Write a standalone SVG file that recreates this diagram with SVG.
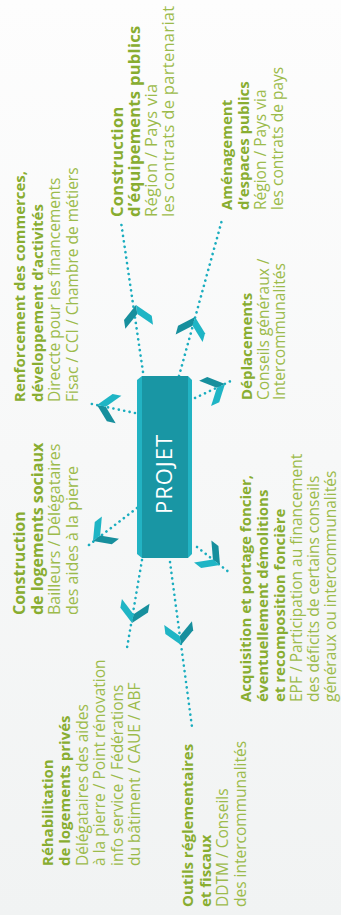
<svg xmlns="http://www.w3.org/2000/svg" width="341" height="915" viewBox="0 0 341 915">
<defs>
<linearGradient id="bg" x1="0" y1="0" x2="0" y2="1">
<stop offset="0" stop-color="#fdfdfd"/>
<stop offset="1" stop-color="#f1f3f3"/>
</linearGradient>
<g id="chev">
<polygon points="0,0 -13,-14 -22,-14 -9,0" fill="#178f9d"/>
<polygon points="0,0 -9,0 -22,14 -13,14" fill="#1fb5c5"/>
</g>
<style>
.t{font-family:"Open Sans","Liberation Sans",sans-serif;font-size:15.5px;fill:#9cbb4b}
.b{font-weight:bold;font-size:15px;fill:#88ad30}
.big .t{font-size:16px}
.bigger .t{font-size:16.5px;letter-spacing:0.3px}
.c{fill:none;stroke:#1aadbf;stroke-width:2.6;stroke-linecap:round;stroke-dasharray:0.1 5.4}
</style>
</defs>
<rect width="341" height="915" fill="url(#bg)"/>
<g id="connectors">
<path class="c" d="M143,372 L121,222"/>
<path class="c" d="M179,376 L222,220"/>
<path class="c" d="M195,398 L233,380"/>
<path class="c" d="M135,413 L87,403"/>
<path class="c" d="M137,508 L85,548"/>
<path class="c" d="M142,560 L127,648"/>
<path class="c" d="M170,562 L192,727"/>
<path class="c" d="M197,547 L230,573"/>
<use href="#chev" transform="translate(136,305) rotate(-98.3)"/>
<use href="#chev" transform="translate(195,317) rotate(-74.6)"/>
<use href="#chev" transform="translate(225,384) rotate(-25.3)"/>
<use href="#chev" transform="translate(97,405) rotate(-168.2)"/>
<use href="#chev" transform="translate(93,541) rotate(142.4)"/>
<use href="#chev" transform="translate(132,623) rotate(99.7)"/>
<use href="#chev" transform="translate(181,645) rotate(82.4)"/>
<use href="#chev" transform="translate(220,565) rotate(38.2)"/>
</g>
<g id="projet">
<rect x="142" y="376" width="46" height="182" fill="#1996a4"/>
<polygon points="137,380 142,376 142,558 137,554" fill="#22b3c3"/>
<polygon points="188,376 192,380 192,554 188,558" fill="#22b3c3"/>
<text transform="translate(172,474) rotate(-90)" text-anchor="middle" font-family="Open Sans, Liberation Sans, sans-serif" font-size="22" letter-spacing="1" fill="#ffffff">PROJET</text>
</g>
<g id="rehabilitation" transform="translate(53,866) rotate(-90)">
<text class="t b" y="0">Réhabilitation</text>
<text class="t b" y="17.4">de logements privés</text>
<text class="t" y="34.8">Délégataires des aides</text>
<text class="t" y="52.2">à la pierre / Point rénovation</text>
<text class="t" y="69.6">info service / Fédérations</text>
<text class="t" y="87">du bâtiment / CAUE / ABF</text>
</g>
<g id="outils" transform="translate(193,907) rotate(-90)">
<text class="t b" y="0">Outils réglementaires</text>
<text class="t b" y="17.5">et fiscaux</text>
<text class="t" y="35">DDTM / Conseils</text>
<text class="t" y="52.5">des intercommunalités</text>
</g>
<g id="acquisition" transform="translate(251,702) rotate(-90)">
<text class="t b" y="0">Acquisition et portage foncier,</text>
<text class="t b" y="17">éventuellement démolitions</text>
<text class="t b" y="34">et recomposition foncière</text>
<text class="t" y="51">EPF / Participation au financement</text>
<text class="t" y="68">des déficits de certains conseils</text>
<text class="t" y="85">généraux ou intercommunalités</text>
</g>
<g id="logements-sociaux" class="big" transform="translate(25,615) rotate(-90)">
<text class="t b" y="0">Construction</text>
<text class="t b" y="17.7">de logements sociaux</text>
<text class="t" y="35.4">Bailleurs / Délégataires</text>
<text class="t" y="53">des aides à la pierre</text>
</g>
<g id="renforcement" transform="translate(25,402) rotate(-90)">
<text class="t b" y="0">Renforcement des commerces,</text>
<text class="t b" y="17.7">développement d’activités</text>
<text class="t" y="35.4">Direccte pour les financements</text>
<text class="t" y="53">Fisac / CCI / Chambre de métiers</text>
</g>
<g id="equipements" class="bigger" transform="translate(123,217) rotate(-90)">
<text class="t b" y="0">Construction</text>
<text class="t b" y="17">d’équipements publics</text>
<text class="t" y="34">Région / Pays via</text>
<text class="t" y="51">les contrats de partenariat</text>
</g>
<g id="amenagement" transform="translate(232,210) rotate(-90)">
<text class="t b" y="0">Aménagement</text>
<text class="t b" y="17">d’espaces publics</text>
<text class="t" y="34">Région / Pays via</text>
<text class="t" y="51">les contrats de pays</text>
</g>
<g id="deplacements" transform="translate(252,400) rotate(-90)">
<text class="t b" y="0">Déplacements</text>
<text class="t" y="16.5">Conseils généraux /</text>
<text class="t" y="33">Intercommunalités</text>
</g>
</svg>
